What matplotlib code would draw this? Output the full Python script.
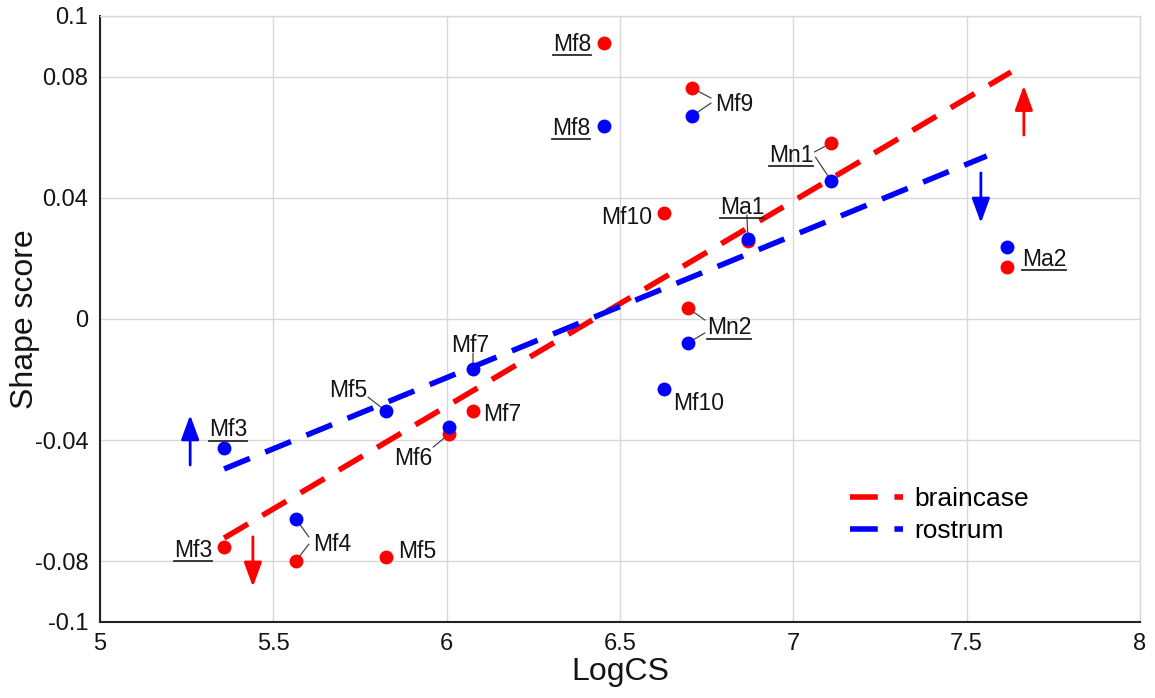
import matplotlib.pyplot as plt
from matplotlib.lines import Line2D
from matplotlib.transforms import IdentityTransform

plt.rcParams["font.family"] = ["Liberation Sans", "DejaVu Sans"]

# specimens, centroid size and shape scores for both modules
specimens = ["Mf3", "Mf4", "Mf5", "Mf6", "Mf7", "Mf8", "Mf9", "Mf10", "Mn1", "Mn2", "Ma1", "Ma2"]
log_cs = [5.358, 5.565, 5.825, 6.007, 6.076, 6.455, 6.708, 6.627, 7.110, 6.696, 6.869, 7.616]
braincase = [-0.0752, -0.0799, -0.0785, -0.0380, -0.0304, 0.0911, 0.0762, 0.0350, 0.0581, 0.0036, 0.0257, 0.0172]
rostrum = [-0.0426, -0.0660, -0.0304, -0.0356, -0.0165, 0.0637, 0.0670, -0.0231, 0.0455, -0.0079, 0.0264, 0.0238]

# regression line end points
braincase_fit_x = [5.358, 7.628]
braincase_fit_y = [-0.0723, 0.0815]
rostrum_fit_x = [5.358, 7.558]
rostrum_fit_y = [-0.0495, 0.0538]

# direction arrows: x, tail y, tip y
braincase_arrows = [(5.441, -0.0719, -0.0884), (7.665, 0.0607, 0.0770)]
rostrum_arrows = [(5.260, -0.0482, -0.0317), (7.541, 0.0482, 0.0317)]

x_ticks = [5, 5.5, 6, 6.5, 7, 7.5, 8]
x_tick_labels = ["5", "5.5", "6", "6.5", "7", "7.5", "8"]
y_ticks = [-0.1, -0.08, -0.04, 0, 0.04, 0.08, 0.1]
y_tick_labels = ["-0.1", "-0.08", "-0.04", "0", "0.04", "0.08", "0.1"]

RED = "#ff0000"
BLUE = "#0000ff"
INK = "#141414"
LEADER = "#444444"

# label offsets in pixels (dx right, dy down), alignment, underline
braincase_labels = {
    "Mf8": (-13, -1, "right", True),
    "Mf9": (23, 14, "left", False),
    "Mn1": (-18, 10, "right", True),
    "Mf10": (-12, 2, "right", False),
    "Ma2": (15, -10, "left", True),
    "Mn2": (19, 17, "left", True),
    "Mf7": (10, 1, "left", False),
    "Mf6": (-17, 22, "right", False),
    "Mf3": (-12, 1, "right", True),
    "Mf4": (17, -19, "left", False),
    "Mf5": (12, -8, "left", False),
}
rostrum_labels = {
    "Mf8": (-14, 0, "right", True),
    "Ma1": (-6, -34, "center", True),
    "Mf10": (9, 12, "left", False),
    "Mf7": (-3, -26, "center", False),
    "Mf5": (-38, -23, "center", False),
    "Mf3": (4, -21, "center", True),
}
# leader line start points, pixels from the point
braincase_leaders = {"Mf9": (19, 10), "Mn1": (-17, 9), "Mn2": (17, 12), "Mf6": (-16, 13), "Mf4": (13, -17)}
rostrum_leaders = {"Mf9": (19, -13), "Mn1": (-16, -24), "Ma1": (-1, -24), "Mn2": (17, -10),
                   "Mf7": (0, -16), "Mf5": (-18, -14), "Mf4": (13, 18)}


def add_labels(ax, values, labels, leaders):
    texts = []
    for name, (dx, dy, ha, underline) in labels.items():
        i = specimens.index(name)
        t = ax.annotate(name, (log_cs[i], values[i]), xytext=(dx, -dy), textcoords="offset pixels",
                        ha=ha, va="center_baseline", fontsize=16.5, color=INK, zorder=5)
        if underline:
            texts.append(t)
    for name, (dx, dy) in leaders.items():
        i = specimens.index(name)
        ax.annotate("", (log_cs[i], values[i]), xytext=(dx, -dy), textcoords="offset pixels",
                    arrowprops=dict(arrowstyle="-", color=LEADER, lw=0.9, shrinkA=0, shrinkB=4), zorder=2)
    return texts


def add_arrows(ax, arrows, color):
    for x, y0, y1 in arrows:
        ax.annotate("", (x, y1), xytext=(x, y0),
                    arrowprops=dict(arrowstyle="-|>,head_length=1.5,head_width=0.55", color=color,
                                    lw=2, mutation_scale=10, shrinkA=0, shrinkB=0))


fig = plt.figure(figsize=(11.55, 6.98), dpi=100)
ax = fig.add_axes([0.0866, 0.1089, 0.9004, 0.8682])

ax.plot(braincase_fit_x, braincase_fit_y, color=RED, lw=4, dashes=(5, 3), label="braincase", zorder=3)
ax.plot(rostrum_fit_x, rostrum_fit_y, color=BLUE, lw=4, dashes=(5, 3), label="rostrum", zorder=3)

ax.plot(log_cs, braincase, "o", color=RED, ms=10, mew=0, zorder=4)
ax.plot(log_cs, rostrum, "o", color=BLUE, ms=10, mew=0, zorder=4)

underlined = add_labels(ax, braincase, braincase_labels, braincase_leaders)
underlined += add_labels(ax, rostrum, rostrum_labels, rostrum_leaders)

add_arrows(ax, braincase_arrows, RED)
add_arrows(ax, rostrum_arrows, BLUE)

ax.set_xlim(5, 8)
ax.set_ylim(-0.1, 0.1)
ax.set_xticks(x_ticks)
ax.set_xticklabels(x_tick_labels)
ax.set_yticks(y_ticks)
ax.set_yticklabels(y_tick_labels)
ax.tick_params(axis="both", length=0, labelsize=17, colors=INK)
ax.tick_params(axis="x", pad=8)
ax.tick_params(axis="y", pad=8.5)
ax.grid(True, color="#d8d8d8", lw=1)
ax.set_axisbelow(True)
for side in ["top", "right"]:
    ax.spines[side].set_color("#d8d8d8")
    ax.spines[side].set_linewidth(1)
for side in ["left", "bottom"]:
    ax.spines[side].set_color("#222222")
    ax.spines[side].set_linewidth(1.5)

ax.set_xlabel("LogCS", fontsize=23, color=INK)
ax.set_ylabel("Shape score", fontsize=23, color=INK)
ax.xaxis.set_label_coords(0.5, -0.0825)
ax.xaxis.label.set_va("center")
ax.yaxis.set_label_coords(-0.072, 0.5)
ax.yaxis.label.set_va("center")

ax.legend(loc="center left", bbox_to_anchor=(0.721, 0.1766), frameon=False, fontsize=19,
          handlelength=2.0, handletextpad=0.45, borderpad=0, borderaxespad=0, labelspacing=0.3)

# underline the marked specimen labels
fig.canvas.draw()
renderer = fig.canvas.get_renderer()
for t in underlined:
    bb = t.get_window_extent(renderer)
    fig.add_artist(Line2D([bb.x0, bb.x1], [bb.y0 + 0.5, bb.y0 + 0.5], transform=IdentityTransform(),
                          color="#2a2a2a", lw=1.3))

fig.savefig("out.png", dpi=100)
